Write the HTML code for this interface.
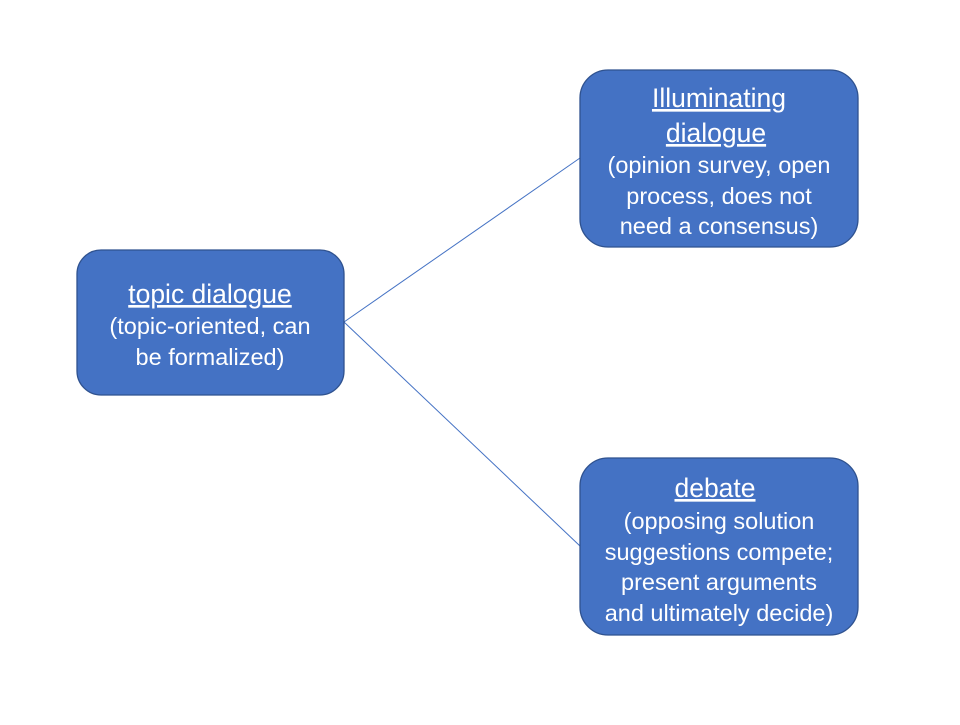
<!DOCTYPE html>
<html><head><meta charset="utf-8"><style>
body{margin:0;background:#fff;width:960px;height:720px;overflow:hidden}
svg text{font-family:"Liberation Sans",sans-serif;font-size:23.5px;fill:#fff;text-anchor:middle}
svg text.t{font-size:26.5px}
</style></head><body>
<svg width="960" height="720" xmlns="http://www.w3.org/2000/svg">
<line x1="344" y1="322" x2="580" y2="158" stroke="#4472C4" stroke-width="1"/>
<line x1="344" y1="322" x2="580" y2="546" stroke="#4472C4" stroke-width="1"/>
<rect x="77" y="250" width="267" height="145" rx="24" fill="#4472C4" stroke="#2F528F" stroke-width="1.3"/>
<rect x="580" y="70" width="278" height="177" rx="28" fill="#4472C4" stroke="#2F528F" stroke-width="1.3"/>
<rect x="580" y="458" width="278" height="177" rx="28" fill="#4472C4" stroke="#2F528F" stroke-width="1.3"/>
<text class="t" x="210" y="303" text-decoration="underline">topic dialogue</text>
<text x="210" y="334">(topic-oriented, can</text>
<text x="210" y="365">be formalized)</text>
<text class="t" x="719" y="107" text-decoration="underline">Illuminating</text>
<text class="t" x="716" y="142" text-decoration="underline">dialogue </text>
<text x="719" y="173">(opinion survey, open</text>
<text x="719" y="204">process, does not</text>
<text x="719" y="234">need a consensus)</text>
<text class="t" x="715" y="497" text-decoration="underline">debate</text>
<text x="719" y="529">(opposing solution</text>
<text x="719" y="560">suggestions compete;</text>
<text x="719" y="590">present arguments</text>
<text x="719" y="621">and ultimately decide)</text>
</svg>
</body></html>
